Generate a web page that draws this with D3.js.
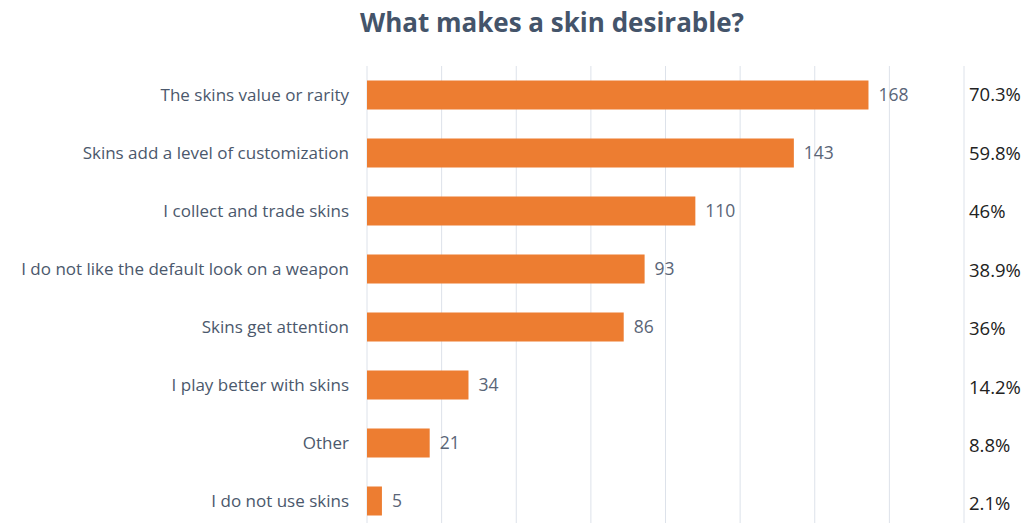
<!DOCTYPE html>
<html>
<head>
<meta charset="utf-8">
<script src="https://cdn.jsdelivr.net/npm/d3@7"></script>
<style>
  body { margin: 0; background: #fff; }
  text { font-family: "Open Sans", "Noto Sans", sans-serif; }
</style>
</head>
<body>
<div id="chart"></div>
<script>
// data
const categories = [
  "The skins value or rarity",
  "Skins add a level of customization",
  "I collect and trade skins",
  "I do not like the default look on a weapon",
  "Skins get attention",
  "I play better with skins",
  "Other",
  "I do not use skins"
];
const counts = [168, 143, 110, 93, 86, 34, 21, 5];
const percents = ["70.3%", "59.8%", "46%", "38.9%", "36%", "14.2%", "8.8%", "2.1%"];
const gridTicks = [0, 25, 50, 75, 100, 125, 150, 175, 200];

const W = 1034, H = 523;
const margin = {top: 66, right: 70, bottom: -7, left: 367};

const svg = d3.select("#chart")
  .append("svg")
    .attr("width", W)
    .attr("height", H);

// title
svg.append("text")
  .attr("x", 552)
  .attr("y", 32)
  .attr("text-anchor", "middle")
  .style("font-size", "26px")
  .style("font-weight", "700")
  .style("fill", "#44546a")
  .text("What makes a skin desirable?");

var x = d3.scaleLinear()
  .domain([0, 200])
  .range([margin.left, W - margin.right]);

var y = d3.scaleBand()
  .domain(categories)
  .range([margin.top, H - margin.bottom])
  .paddingInner(0.5)
  .paddingOuter(0.25);

// vertical gridlines
svg.append("g")
  .selectAll("line")
  .data(gridTicks)
  .enter()
  .append("line")
    .attr("x1", d => x(d))
    .attr("x2", d => x(d))
    .attr("y1", margin.top)
    .attr("y2", H)
    .attr("stroke", "#dde2ea")
    .attr("stroke-width", 1);

// category labels
svg.append("g")
  .selectAll("text")
  .data(categories)
  .enter()
  .append("text")
    .attr("x", margin.left - 18)
    .attr("y", d => y(d) + y.bandwidth() / 2)
    .attr("dy", "0.35em")
    .attr("text-anchor", "end")
    .style("font-size", "17px")
    .style("fill", "#4b586c")
    .text(d => d);

// bars
svg.append("g")
  .selectAll("rect")
  .data(counts)
  .enter()
  .append("rect")
    .attr("x", x(0))
    .attr("y", (d, i) => y(categories[i]))
    .attr("width", d => x(d) - x(0))
    .attr("height", y.bandwidth())
    .attr("fill", "#ed7d31");

// value labels
svg.append("g")
  .selectAll("text")
  .data(counts)
  .enter()
  .append("text")
    .attr("x", d => x(d) + 10)
    .attr("y", (d, i) => y(categories[i]) + y.bandwidth() / 2)
    .attr("dy", "0.35em")
    .style("font-size", "17.5px")
    .style("fill", "#5a6577")
    .text(d => d);

// percentage column, rows sit a little lower than the bars
var yp = d3.scalePoint()
  .domain(categories)
  .range([95, 504]);

svg.append("g")
  .selectAll("text")
  .data(percents)
  .enter()
  .append("text")
    .attr("x", 969)
    .attr("y", (d, i) => yp(categories[i]))
    .attr("dy", "0.35em")
    .style("font-size", "18.5px")
    .style("fill", "#222")
    .text(d => d);
</script>
</body>
</html>
